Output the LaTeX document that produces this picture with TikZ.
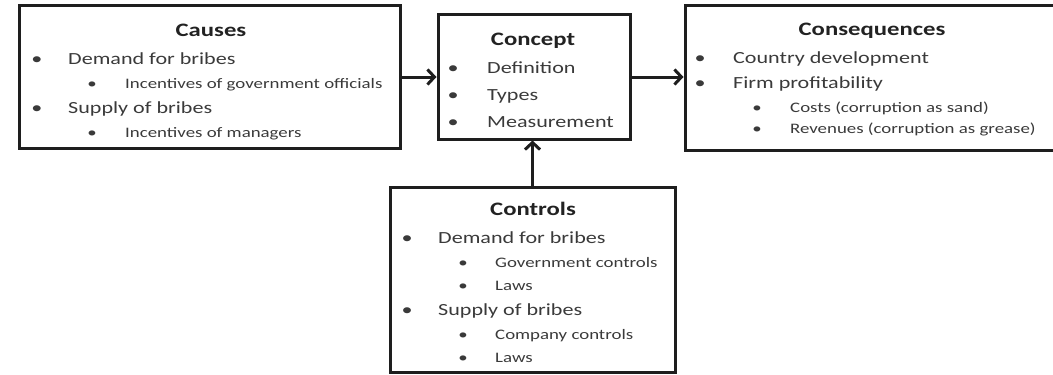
\documentclass[tikz,border=0pt]{standalone}
\usepackage{fontspec}
\setmainfont[FakeStretch=1.3]{Carlito}
\usetikzlibrary{arrows.meta}
\definecolor{txt}{HTML}{3A3A3A}
\definecolor{hd}{HTML}{222222}
\definecolor{bd}{HTML}{1E1E1E}
\tikzset{
  box/.style={draw=bd, line width=3bp, rectangle, inner sep=0pt},
  hdtxt/.style={anchor=base, inner sep=0pt, text=hd, font=\fontsize{19bp}{22bp}\selectfont\bfseries},
  lone/.style={anchor=base west, inner sep=0pt, text=txt, font=\fontsize{17bp}{20bp}\selectfont},
  ltwo/.style={anchor=base west, inner sep=0pt, text=txt, font=\fontsize{14.5bp}{17bp}\selectfont},
  bone/.style={anchor=base, inner sep=0pt, text=txt, font=\fontsize{17bp}{20bp}\selectfont},
  btwo/.style={anchor=base, inner sep=0pt, text=txt, font=\fontsize{14.5bp}{17bp}\selectfont},
  conn/.style={draw=bd, line width=3bp, -{Straight Barb[length=7bp,width=15bp]}}
}
\begin{document}
\begin{tikzpicture}[x=1bp,y=1bp]
\useasboundingbox (0,0) rectangle (1053,374);
% boxes
\node[box, minimum width=380bp, minimum height=142bp] (causes) at (210,297) {};
\node[box, minimum width=192bp, minimum height=124bp] (concept) at (534,297) {};
\node[box, minimum width=380bp, minimum height=144bp] (cons) at (875,296) {};
\node[box, minimum width=285bp, minimum height=185bp] (controls) at (532.5,94.5) {};
% causes text
\node[hdtxt] (causesh) at (211,338) {Causes};
\node[bone] (cb1) at (37,310) {•};
\node[lone] (ct1) at (68,310) {Demand for bribes};
\node[btwo] (cb2) at (92,286) {•};
\node[ltwo] (ct2) at (125,286) {Incentives of government officials};
\node[bone] (cb3) at (37,261) {•};
\node[lone] (ct3) at (68,261) {Supply of bribes};
\node[btwo] (cb4) at (92,237) {•};
\node[ltwo] (ct4) at (125,237) {Incentives of managers};
% concept text
\node[hdtxt] (concepth) at (533,329) {Concept};
\node[bone] (kb1) at (453,301) {•};
\node[lone] (kt1) at (487,301) {Definition};
\node[bone] (kb2) at (453,274) {•};
\node[lone] (kt2) at (487,274) {Types};
\node[bone] (kb3) at (453,247) {•};
\node[lone] (kt3) at (487,247) {Measurement};
% consequences text
\node[hdtxt] (consh) at (872,339) {Consequences};
\node[bone] (sb1) at (700,311) {•};
\node[lone] (st1) at (733,311) {Country development};
\node[bone] (sb2) at (700,286) {•};
\node[lone] (st2) at (733,286) {Firm profitability};
\node[btwo] (sb3) at (757,262) {•};
\node[ltwo] (st3) at (790,262) {Costs (corruption as sand)};
\node[btwo] (sb4) at (757,241) {•};
\node[ltwo] (st4) at (790,241) {Revenues (corruption as grease)};
% controls text
\node[hdtxt] (controlsh) at (533,159) {Controls};
\node[bone] (rb1) at (407,131) {•};
\node[lone] (rt1) at (438,131) {Demand for bribes};
\node[btwo] (rb2) at (463,107) {•};
\node[ltwo] (rt2) at (495,107) {Government controls};
\node[btwo] (rb3) at (463,84) {•};
\node[ltwo] (rt3) at (495,84) {Laws};
\node[bone] (rb4) at (407,59) {•};
\node[lone] (rt4) at (438,59) {Supply of bribes};
\node[btwo] (rb5) at (463,35) {•};
\node[ltwo] (rt5) at (495,35) {Company controls};
\node[btwo] (rb6) at (463,12) {•};
\node[ltwo] (rt6) at (495,12) {Laws};
% connectors
\draw[conn] (causes.east) -- (concept.west);
\draw[conn] (concept.east) -- (cons.west |- concept.east);
\draw[conn] (controls.north) -- (controls.north |- concept.south);
\end{tikzpicture}
\end{document}
